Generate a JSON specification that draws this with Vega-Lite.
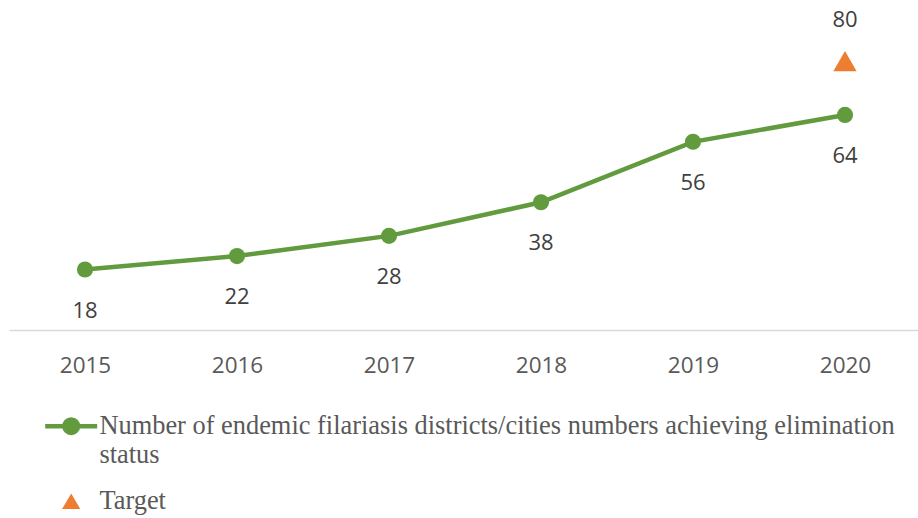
{
  "$schema": "https://vega.github.io/schema/vega-lite/v6.json",
  "width": 912,
  "height": 330,
  "autosize": "none",
  "padding": {"left": 9, "top": 0, "right": 0, "bottom": 188},
  "background": "white",
  "config": {"view": {"stroke": null}},
  "data": {
    "values": [
      {"year": "2015", "value": 18, "series": "Number of endemic filariasis districts/cities numbers achieving elimination status"},
      {"year": "2016", "value": 22, "series": "Number of endemic filariasis districts/cities numbers achieving elimination status"},
      {"year": "2017", "value": 28, "series": "Number of endemic filariasis districts/cities numbers achieving elimination status"},
      {"year": "2018", "value": 38, "series": "Number of endemic filariasis districts/cities numbers achieving elimination status"},
      {"year": "2019", "value": 56, "series": "Number of endemic filariasis districts/cities numbers achieving elimination status"},
      {"year": "2020", "value": 64, "series": "Number of endemic filariasis districts/cities numbers achieving elimination status"},
      {"year": "2020", "value": 80, "series": "Target"}
    ]
  },
  "encoding": {
    "x": {
      "field": "year", "type": "ordinal",
      "scale": {"paddingInner": 0, "paddingOuter": 0},
      "axis": {"title": null, "labelAngle": 0, "ticks": false, "domainColor": "#D9D9D9", "domainWidth": 1.5,
               "labelFont": "Open Sans", "labelFontSize": 22.5, "labelColor": "#595959", "labelPadding": 24, "grid": false}
    },
    "y": {
      "field": "value", "type": "quantitative",
      "scale": {"domain": [0, 98.2], "nice": false},
      "axis": null
    }
  },
  "layer": [
    {
      "transform": [{"filter": "datum.series !== 'Target'"}],
      "mark": {"type": "line", "strokeWidth": 4.5},
      "encoding": {
        "color": {
          "field": "series", "type": "nominal",
          "scale": {"domain": ["Number of endemic filariasis districts/cities numbers achieving elimination status", "Target"], "range": ["#629B3D", "#ED7D31"]},
          "legend": {
            "title": null,
            "orient": "none",
            "legendX": 49,
            "legendY": 413,
            "direction": "vertical",
            "labelFont": "Liberation Serif",
            "labelFontSize": 26.4,
            "labelColor": "#595959",
            "labelLimit": 1000,
            "labelOffset": 3,
            "labelBaseline": "alphabetic",
            "labelExpr": "datum.label === 'Target' ? 'Target' : ['Number of endemic filariasis districts/cities numbers achieving elimination', 'status']",
            "rowPadding": 19,
            "symbolSize": 2704,
            "symbolOpacity": 1,
            "encode": {
              "labels": {
                "update": {
                  "dx": {"value": 12},
                  "dy": {"value": 8},
                  "lineHeight": {"value": 29}
                }
              },
              "symbols": {
                "update": {
                  "shape": {"signal": "datum.value === 'Target' ? 'M0,-0.3L0.35,0.3L-0.35,0.3Z' : 'M-1,0L1,0M0.26,0A0.26,0.26,0,1,1,-0.26,0A0.26,0.26,0,1,1,0.26,0Z'"},
                  "fill": {"signal": "datum.value === 'Target' ? '#F79C2D' : '#629B3D'"},
                  "stroke": {"signal": "datum.value === 'Target' ? '#F79C2D' : '#629B3D'"},
                  "strokeWidth": {"signal": "datum.value === 'Target' ? 0 : 4.5"},
                  "opacity": {"value": 1}
                }
              }
            }
          }
        }
      }
    },
    {
      "transform": [{"filter": "datum.series !== 'Target'"}],
      "mark": {"type": "point", "filled": true, "shape": "circle", "size": 260, "opacity": 1},
      "encoding": {"color": {"field": "series", "type": "nominal"}}
    },
    {
      "transform": [{"filter": "datum.series === 'Target'"}],
      "mark": {"type": "point", "filled": true, "shape": "triangle-up", "size": 540, "opacity": 1},
      "encoding": {"color": {"field": "series", "type": "nominal"}}
    },
    {
      "transform": [{"filter": "datum.series !== 'Target'"}],
      "mark": {"type": "text", "dy": 41, "font": "Open Sans", "fontSize": 22, "color": "#404040"},
      "encoding": {"text": {"field": "value", "type": "quantitative"}}
    },
    {
      "transform": [{"filter": "datum.series === 'Target'"}],
      "mark": {"type": "text", "dy": -41, "font": "Open Sans", "fontSize": 22, "color": "#404040"},
      "encoding": {"text": {"field": "value", "type": "quantitative"}}
    }
  ]
}
